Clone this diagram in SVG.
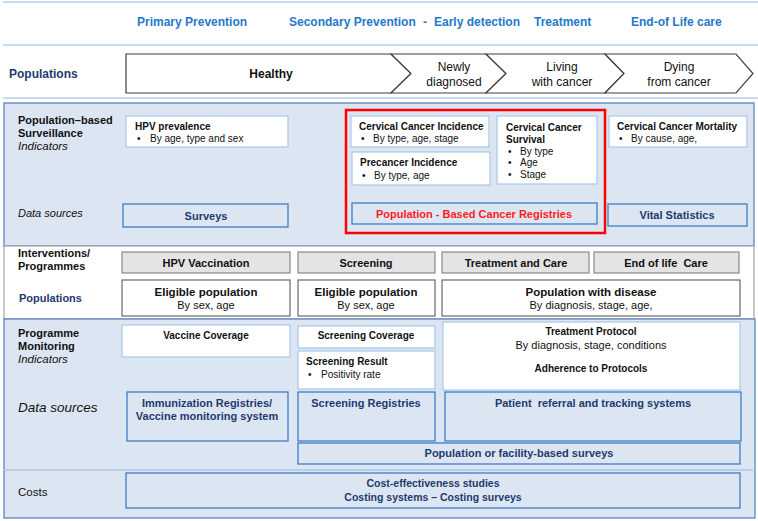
<svg xmlns="http://www.w3.org/2000/svg" width="758" height="521" viewBox="0 0 758 521">
<style>
text{font-family:"Liberation Sans",Arial,sans-serif;fill:#111}
.hdr{font-size:12px;font-weight:bold;fill:#2579c9}
.b{font-weight:bold}
.navy{fill:#1f3a6e}
.it{font-style:italic}
.f10{font-size:10px}
.f11{font-size:11px}
.f12{font-size:12px}
.mid{text-anchor:middle}
.panel{fill:#dce6f2;stroke:#5b85bf;stroke-width:1.3}
.ind{fill:#fff;stroke:#a9c8e8;stroke-width:1.2}
.ds{fill:#dce6f2;stroke:#3f7dc4;stroke-width:1.3}
.gray{fill:#e4e4e4;stroke:#7f7f7f;stroke-width:1.1}
.pop{fill:#fff;stroke:#595959;stroke-width:1.1}
.chev{fill:#fff;stroke:#404040;stroke-width:1.2}
.hl{stroke:#b7cfe9;stroke-width:1.5}
</style>
<g id="header">
<line class="hl" x1="3" y1="2" x2="758" y2="2"/>
<line class="hl" x1="3" y1="45" x2="758" y2="45"/>
<line class="hl" x1="3" y1="98" x2="758" y2="98"/>
<text class="hdr" x="137" y="26">Primary Prevention</text>
<text class="hdr" x="289" y="26">Secondary Prevention</text>
<text class="hdr" x="423" y="26">-</text>
<text class="hdr" x="434" y="26">Early detection</text>
<text class="hdr" x="534" y="26">Treatment</text>
<text class="hdr" x="631" y="26">End-of Life care</text>
</g>
<g id="populations-row">
<text class="f12 b navy" x="9" y="78">Populations</text>
<g id="healthy">
<polygon class="chev" points="126,54 391,54 411,73.5 391,93 126,93"/>
<text class="f12 b mid" x="271" y="78">Healthy</text>
</g>
<g id="newly">
<polygon class="chev" points="391,54 486,54 506,73.5 486,93 391,93 411,73.5"/>
<text class="f12 mid" x="454" y="71">Newly</text>
<text class="f12 mid" x="454" y="86">diagnosed</text>
</g>
<g id="living">
<polygon class="chev" points="486,54 605,54 624,73.5 605,93 486,93 506,73.5"/>
<text class="f12 mid" x="562" y="71">Living</text>
<text class="f12 mid" x="562" y="86">with cancer</text>
</g>
<g id="dying">
<polygon class="chev" points="605,54 736,54 753,73.5 736,93 605,93 624,73.5"/>
<text class="f12 mid" x="679" y="71">Dying</text>
<text class="f12 mid" x="679" y="86">from cancer</text>
</g>
</g>
<g id="surveillance">
<rect class="panel" x="4" y="103" width="750" height="143"/>
<text class="f11 b" x="18" y="124">Population–based</text>
<text class="f11 b" x="18" y="137">Surveillance</text>
<text class="f11 it" x="18" y="150" style="font-size:11.5px">Indicators</text>
<text class="f11 it" x="18" y="217">Data sources</text>
<g id="hpv-prevalence">
<rect class="ind" x="126" y="116" width="162" height="31"/>
<text class="f10 b" x="135" y="129.5">HPV prevalence</text>
<text class="f10" x="137" y="141.5">•</text>
<text class="f10" x="150" y="141.5">By age, type and sex</text>
</g>
<g id="surveys">
<rect class="ds" x="123" y="204" width="165" height="23"/>
<text class="f11 b navy mid" x="206" y="219.5">Surveys</text>
</g>
<g id="cc-incidence">
<rect class="ind" x="351" y="116" width="138" height="31"/>
<text class="f10 b" x="359" y="130">Cervical Cancer Incidence</text>
<text class="f10" x="361" y="142">•</text>
<text class="f10" x="373" y="142">By type, age, stage</text>
</g>
<g id="precancer">
<rect class="ind" x="352" y="152" width="138" height="33"/>
<text class="f10 b" x="360" y="166">Precancer Incidence</text>
<text class="f10" x="362" y="178.5">•</text>
<text class="f10" x="374" y="178.5">By type, age</text>
</g>
<g id="cc-survival">
<rect class="ind" x="497" y="116" width="100" height="68"/>
<text class="f10 b" x="506" y="131">Cervical Cancer</text>
<text class="f10 b" x="506" y="143">Survival</text>
<text class="f10" x="508" y="154.5">•</text>
<text class="f10" x="520" y="154.5">By type</text>
<text class="f10" x="508" y="166">•</text>
<text class="f10" x="520" y="166">Age</text>
<text class="f10" x="508" y="177.5">•</text>
<text class="f10" x="520" y="177.5">Stage</text>
</g>
<g id="cancer-registries">
<rect class="ds" x="352" y="203" width="245" height="21"/>
<text class="f11 b mid" x="474" y="217.5" style="fill:#ff1a1a">Population - Based Cancer Registries</text>
</g>
<rect id="red-frame" x="346" y="110" width="259" height="123" fill="none" stroke="#ff0000" stroke-width="2.5"/>
<g id="cc-mortality">
<rect class="ind" x="609" y="116" width="138" height="31"/>
<text class="f10 b" x="617" y="130">Cervical Cancer Mortality</text>
<text class="f10" x="619" y="142">•</text>
<text class="f10" x="631" y="142">By cause, age,</text>
</g>
<g id="vital-statistics">
<rect class="ds" x="608" y="204" width="139" height="22"/>
<text class="f11 b navy mid" x="677" y="219">Vital Statistics</text>
</g>
</g>
<g id="interventions">
<rect x="4" y="246" width="750" height="73" fill="#fff" stroke="#a6a6a6" stroke-width="1.2"/>
<text class="f11 b" x="18" y="257">Interventions/</text>
<text class="f11 b" x="18" y="270">Programmes</text>
<text class="f11 b navy" x="19" y="302">Populations</text>
<g id="hpv-vaccination">
<rect class="gray" x="122" y="252" width="168" height="21"/>
<text class="f11 b mid" x="206" y="266.5">HPV Vaccination</text>
</g>
<g id="screening">
<rect class="gray" x="298" y="252" width="137" height="21"/>
<text class="f11 b mid" x="366" y="266.5">Screening</text>
</g>
<g id="treatment-care">
<rect class="gray" x="442" y="252" width="147" height="21"/>
<text class="f11 b mid" x="516" y="266.5">Treatment and Care</text>
</g>
<g id="end-of-life-care">
<rect class="gray" x="594" y="252" width="145" height="21"/>
<text class="f11 b mid" x="666" y="266.5" xml:space="preserve">End of life  Care</text>
</g>
<g id="eligible-1">
<rect class="pop" x="122" y="280" width="168" height="36"/>
<text class="f11 b mid" x="206" y="295.5" style="font-size:11.5px">Eligible population</text>
<text class="f11 mid" x="206" y="308.5">By sex, age</text>
</g>
<g id="eligible-2">
<rect class="pop" x="298" y="280" width="137" height="36"/>
<text class="f11 b mid" x="366" y="295.5" style="font-size:11.5px">Eligible population</text>
<text class="f11 mid" x="366" y="308.5">By sex, age</text>
</g>
<g id="population-disease">
<rect class="pop" x="442" y="280" width="298" height="36"/>
<text class="f11 b mid" x="591" y="295.5" style="font-size:11.5px">Population with  disease</text>
<text class="f11 mid" x="591" y="308.5">By diagnosis, stage, age,</text>
</g>
</g>
<g id="monitoring">
<rect class="panel" x="4" y="319" width="751" height="199"/>
<line x1="4" y1="470" x2="753" y2="470" stroke="#b7cfe9" stroke-width="2"/>
<text class="f11 b" x="18" y="337">Programme</text>
<text class="f11 b" x="18" y="350">Monitoring</text>
<text class="f11 it" x="18" y="363" style="font-size:11.5px">Indicators</text>
<text class="it" x="18" y="411.5" style="font-size:13.5px">Data sources</text>
<g id="vaccine-coverage">
<rect class="ind" x="122" y="325" width="168" height="32"/>
<text class="f10 b mid" x="206" y="338.5">Vaccine Coverage</text>
</g>
<g id="screening-coverage">
<rect class="ind" x="298" y="326" width="137" height="22"/>
<text class="f10 b mid" x="366" y="339">Screening Coverage</text>
</g>
<g id="screening-result">
<rect class="ind" x="298" y="351" width="137" height="38"/>
<text class="f10 b" x="306" y="365">Screening Result</text>
<text class="f10" x="308" y="377.5">•</text>
<text class="f10" x="321" y="377.5">Positivity rate</text>
</g>
<g id="treatment-protocol">
<rect class="ind" x="443" y="322" width="297" height="68"/>
<text class="f10 b mid" x="591" y="334.5">Treatment Protocol</text>
<text class="f11 mid" x="591" y="349">By diagnosis, stage, conditions</text>
<text class="f10 b mid" x="591" y="372">Adherence to Protocols</text>
</g>
<g id="immunization-registries">
<rect class="ds" x="127" y="392" width="161" height="49"/>
<text class="f11 b navy mid" x="207" y="407">Immunization Registries/</text>
<text class="f11 b navy mid" x="207" y="420">Vaccine monitoring system</text>
</g>
<g id="screening-registries">
<rect class="ds" x="298" y="392" width="137" height="49"/>
<text class="f11 b navy mid" x="366" y="407">Screening Registries</text>
</g>
<g id="patient-referral">
<rect class="ds" x="445" y="392" width="296" height="49"/>
<text class="f11 b navy mid" x="593" y="407" xml:space="preserve">Patient  referral and tracking systems</text>
</g>
<g id="facility-surveys">
<rect class="ds" x="298" y="443" width="442" height="21"/>
<text class="f11 b navy mid" x="519" y="457">Population or facility-based surveys</text>
</g>
<text x="18" y="495.5" style="font-size:11.5px">Costs</text>
<g id="costs">
<rect class="ds" x="126" y="473" width="614" height="35"/>
<text class="f10 b navy mid" x="433" y="487" style="font-size:10.5px">Cost-effectiveness studies</text>
<text class="f10 b navy mid" x="433" y="501" style="font-size:10.5px">Costing systems – Costing surveys</text>
</g>
</g>
</svg>
